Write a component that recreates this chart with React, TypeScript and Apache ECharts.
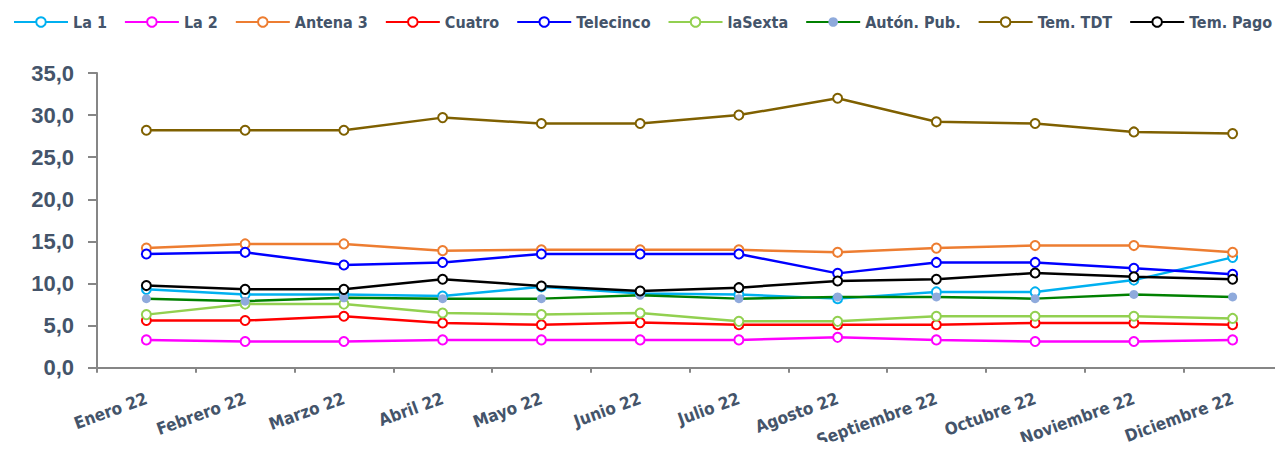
import React, { useEffect, useRef } from "react";
import * as echarts from "echarts";

const months = ["Enero 22", "Febrero 22", "Marzo 22", "Abril 22", "Mayo 22", "Junio 22", "Julio 22", "Agosto 22", "Septiembre 22", "Octubre 22", "Noviembre 22", "Diciembre 22"];

const la1 = [9.3, 8.7, 8.7, 8.5, 9.6, 8.8, 8.7, 8.2, 9.0, 9.0, 10.4, 13.1];
const la2 = [3.3, 3.1, 3.1, 3.3, 3.3, 3.3, 3.3, 3.6, 3.3, 3.1, 3.1, 3.3];
const antena3 = [14.2, 14.7, 14.7, 13.9, 14.0, 14.0, 14.0, 13.7, 14.2, 14.5, 14.5, 13.7];
const cuatro = [5.6, 5.6, 6.1, 5.3, 5.1, 5.35, 5.1, 5.1, 5.1, 5.3, 5.3, 5.1];
const telecinco = [13.5, 13.7, 12.2, 12.5, 13.5, 13.5, 13.5, 11.2, 12.5, 12.5, 11.8, 11.1];
const laSexta = [6.3, 7.55, 7.55, 6.5, 6.3, 6.5, 5.5, 5.5, 6.1, 6.1, 6.1, 5.85];
const autonPub = [8.2, 7.9, 8.3, 8.2, 8.2, 8.6, 8.2, 8.4, 8.4, 8.2, 8.7, 8.4];
const temTDT = [28.2, 28.2, 28.2, 29.7, 29.0, 29.0, 30.0, 32.0, 29.2, 29.0, 28.0, 27.8];
const temPago = [9.75, 9.3, 9.3, 10.5, 9.7, 9.1, 9.5, 10.3, 10.5, 11.25, 10.8, 10.5];

const yTicks = { min: 0, max: 35, interval: 5 };

const seriesDefs = [
  { name: "La 1", data: la1, color: "#00B0F0" },
  { name: "La 2", data: la2, color: "#FF00FF" },
  { name: "Antena 3", data: antena3, color: "#ED7D31" },
  { name: "Cuatro", data: cuatro, color: "#FF0000" },
  { name: "Telecinco", data: telecinco, color: "#0000FF" },
  { name: "laSexta", data: laSexta, color: "#92D050" },
  { name: "Autón. Pub.", data: autonPub, color: "#008000", marker: "#8FAADC" },
  { name: "Tem. TDT", data: temTDT, color: "#7F6000" },
  { name: "Tem. Pago", data: temPago, color: "#000000" },
];

const FONT = "'DejaVu Sans Condensed', 'Liberation Sans Narrow', 'Liberation Sans', sans-serif";
const TEXT = "#44546A";

export default function App() {
  const ref = useRef<HTMLDivElement>(null);
  useEffect(() => {
    if (!ref.current) return;
    const chart = echarts.init(ref.current, null, { renderer: "svg" });
    chart.setOption({
      animation: false,
      backgroundColor: "#ffffff",
      legend: {
        top: 9,
        left: 8,
        right: 0,
        itemWidth: 54,
        itemHeight: 12,
        itemGap: 17,
        textStyle: { fontFamily: FONT, fontSize: 16, fontWeight: "bold", color: TEXT },
        data: seriesDefs.map((s) => s.name),
      },
      grid: { left: 97, right: 1, top: 73, bottom: 78, containLabel: false },
      xAxis: {
        type: "category",
        data: months,
        boundaryGap: true,
        axisLine: { lineStyle: { color: "#868686", width: 2 } },
        axisTick: { show: true, alignWithLabel: false, length: 5, lineStyle: { color: "#868686", width: 2 } },
        axisLabel: {
          rotate: 20,
          interval: 0,
          margin: 30,
          fontFamily: FONT,
          fontSize: 17,
          fontWeight: "bold",
          color: TEXT,
        },
      },
      yAxis: {
        type: "value",
        min: yTicks.min,
        max: yTicks.max,
        interval: yTicks.interval,
        splitLine: { show: false },
        axisLine: { show: true, lineStyle: { color: "#868686", width: 2 } },
        axisTick: { show: true, length: 9, lineStyle: { color: "#868686", width: 2 } },
        axisLabel: {
          margin: 23,
          fontFamily: "'Liberation Sans', sans-serif",
          fontSize: 22,
          fontWeight: "bold",
          color: TEXT,
          formatter: (v: number) => v.toFixed(1).replace(".", ","),
        },
      },
      series: seriesDefs.map((s) => ({
        name: s.name,
        type: "line",
        data: s.data,
        symbol: s.marker ? "circle" : "emptyCircle",
        symbolSize: 9,
        showAllSymbol: true,
        lineStyle: { color: s.color, width: 2.5 },
        itemStyle: s.marker
          ? { color: s.marker, borderColor: s.marker, borderWidth: 0 }
          : { color: s.color, borderColor: s.color, borderWidth: 2 },
      })),
    });
    return () => chart.dispose();
  }, []);
  return <div ref={ref} style={{ width: 1283, height: 450, margin: -8 }} />;
}
